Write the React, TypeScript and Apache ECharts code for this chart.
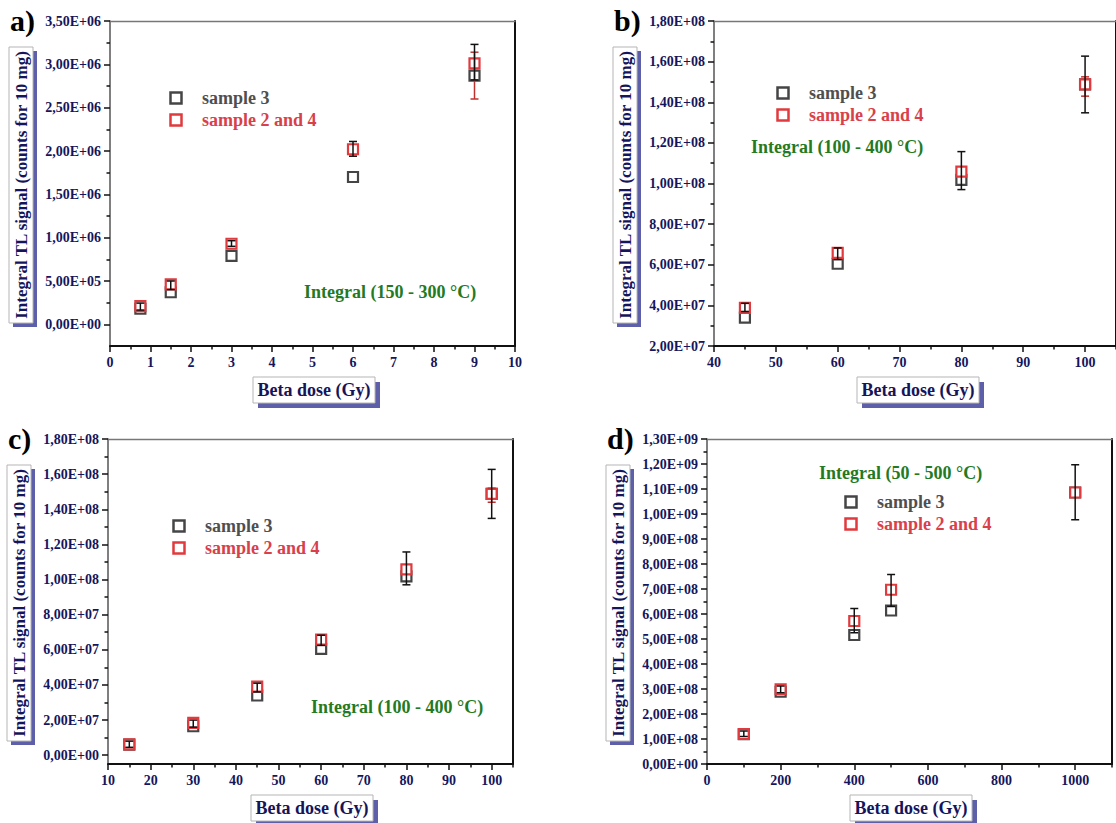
import React, { useEffect, useRef } from 'react';
import * as echarts from 'echarts';

// ---------- Panel a) Integral (150 - 300 °C) ----------
const aDose = [0.75, 1.5, 3, 6, 9];
const aSample3 = [1.8e5, 3.7e5, 7.9e5, 1.7e6, 2.87e6];
const aSample24 = [2.1e5, 4.6e5, 9.3e5, 2.02e6, 3.01e6];
const aErrBlack = [[0.75, 1.65e5, 2.45e5], [1.5, 4.0e5, 5.0e5], [3, 9.0e5, 9.65e5], [6, 1.94e6, 2.11e6], [9, 2.82e6, 3.23e6]];
const aErrRed = [[9, 2.6e6, 3.14e6]];
const aXTicks = [0, 1, 2, 3, 4, 5, 6, 7, 8, 9, 10];
const aXMinor = [0.5, 1.5, 2.5, 3.5, 4.5, 5.5, 6.5, 7.5, 8.5, 9.5];
const aYTicks = [0, 5e5, 1e6, 1.5e6, 2e6, 2.5e6, 3e6, 3.5e6];
const aYMinor = [2.5e5, 7.5e5, 1.25e6, 1.75e6, 2.25e6, 2.75e6, 3.25e6];

// ---------- Panel b) Integral (100 - 400 °C) ----------
const bDose = [45, 60, 80, 100];
const bSample3 = [3.4e7, 6.05e7, 1.018e8, 1.488e8];
const bSample24 = [3.88e7, 6.58e7, 1.058e8, 1.488e8];
const bErrBlack = [[45, 3.7e7, 4.1e7], [60, 6.25e7, 6.83e7], [80, 9.7e7, 1.157e8], [100, 1.348e8, 1.627e8]];
const bErrRed = [[100, 1.43e8, 1.525e8]];
const bXTicks = [40, 50, 60, 70, 80, 90, 100];
const bXMinor = [45, 55, 65, 75, 85, 95, 105];
const bYTicks = [2e7, 4e7, 6e7, 8e7, 1e8, 1.2e8, 1.4e8, 1.6e8, 1.8e8];
const bYMinor = [3e7, 5e7, 7e7, 9e7, 1.1e8, 1.3e8, 1.5e8, 1.7e8];

// ---------- Panel c) Integral (100 - 400 °C) ----------
const cDose = [15, 30, 45, 60, 80, 100];
const cSample3 = [6.0e6, 1.65e7, 3.4e7, 6.05e7, 1.018e8, 1.488e8];
const cSample24 = [6.2e6, 1.84e7, 3.9e7, 6.58e7, 1.058e8, 1.488e8];
const cErrBlack = [[15, 4.5e6, 8.0e6], [30, 1.6e7, 2.0e7], [45, 3.6e7, 4.1e7], [60, 6.25e7, 6.83e7], [80, 9.7e7, 1.157e8], [100, 1.348e8, 1.627e8]];
const cErrRed = [[100, 1.44e8, 1.52e8]];
const cXTicks = [10, 20, 30, 40, 50, 60, 70, 80, 90, 100];
const cXMinor = [15, 25, 35, 45, 55, 65, 75, 85, 95, 105];
const cYTicks = [0, 2e7, 4e7, 6e7, 8e7, 1e8, 1.2e8, 1.4e8, 1.6e8, 1.8e8];
const cYMinor = [1e7, 3e7, 5e7, 7e7, 9e7, 1.1e8, 1.3e8, 1.5e8, 1.7e8];

// ---------- Panel d) Integral (50 - 500 °C) ----------
const dDose = [100, 200, 400, 500, 1000];
const dSample3 = [1.19e8, 2.89e8, 5.16e8, 6.14e8, 1.086e9];
const dSample24 = [1.2e8, 2.99e8, 5.72e8, 6.97e8, 1.086e9];
const dErrBlack = [[100, 1.1e8, 1.32e8], [200, 2.85e8, 3.12e8], [400, 5.25e8, 6.22e8], [500, 6.3e8, 7.58e8], [1000, 9.77e8, 1.197e9]];
const dErrRed: number[][] = [];
const dXTicks = [0, 200, 400, 600, 800, 1000];
const dXMinor = [100, 300, 500, 700, 900, 1100];
const dYTicks = [0, 1e8, 2e8, 3e8, 4e8, 5e8, 6e8, 7e8, 8e8, 9e8, 1e9, 1.1e9, 1.2e9, 1.3e9];
const dYMinor = [5e7, 1.5e8, 2.5e8, 3.5e8, 4.5e8, 5.5e8, 6.5e8, 7.5e8, 8.5e8, 9.5e8, 1.05e9, 1.15e9, 1.25e9];

const legendNames = ['sample 3', 'sample 2 and 4'];
const yTitle = 'Integral TL signal (counts for 10 mg)';
const xTitle = 'Beta dose (Gy)';

const SERIF = '"Liberation Serif", "Times New Roman", serif';
const NAVY = '#15155c';
const BLACKM = '#454545';
const REDM = '#e03a3e';
const GREEN = '#237a23';
const SHADOW = '#5d5fa8';

const fmtSci = (v: number) => {
  if (v === 0) return '0,00E+00';
  let e = Math.floor(Math.log10(Math.abs(v)));
  let s = (v / Math.pow(10, e)).toFixed(2);
  if (s === '10.00') { e += 1; s = '1.00'; }
  return s.replace('.', ',') + 'E' + (e >= 0 ? '+' : '-') + String(Math.abs(e)).padStart(2, '0');
};

type Panel = {
  letter: string; left: number; top: number;
  xMin: number; xMax: number; yMin: number; yMax: number;
  xTicks: number[]; xMinor: number[]; yTicks: number[]; yMinor: number[];
  dose: number[]; s3: number[]; s24: number[]; errB: number[][]; errR: number[][];
  note: string; noteX: number; noteY: number; legX: number; legY: number;
};

const panels: Panel[] = [
  { letter: 'a)', left: 110, top: 21, xMin: 0, xMax: 10, yMin: -2.5e5, yMax: 3.5e6,
    xTicks: aXTicks, xMinor: aXMinor, yTicks: aYTicks, yMinor: aYMinor,
    dose: aDose, s3: aSample3, s24: aSample24, errB: aErrBlack, errR: aErrRed,
    note: 'Integral (150 - 300 °C)', noteX: 304, noteY: 292, legX: 176, legY: 98 },
  { letter: 'b)', left: 714, top: 21, xMin: 40, xMax: 105, yMin: 2e7, yMax: 1.8e8,
    xTicks: bXTicks, xMinor: bXMinor, yTicks: bYTicks, yMinor: bYMinor,
    dose: bDose, s3: bSample3, s24: bSample24, errB: bErrBlack, errR: bErrRed,
    note: 'Integral (100 - 400 °C)', noteX: 751, noteY: 147, legX: 783, legY: 93 },
  { letter: 'c)', left: 108, top: 439, xMin: 10, xMax: 105, yMin: -5e6, yMax: 1.8e8,
    xTicks: cXTicks, xMinor: cXMinor, yTicks: cYTicks, yMinor: cYMinor,
    dose: cDose, s3: cSample3, s24: cSample24, errB: cErrBlack, errR: cErrRed,
    note: 'Integral (100 - 400 °C)', noteX: 311, noteY: 707, legX: 179, legY: 526 },
  { letter: 'd)', left: 707, top: 439, xMin: 0, xMax: 1100, yMin: 0, yMax: 1.3e9,
    xTicks: dXTicks, xMinor: dXMinor, yTicks: dYTicks, yMinor: dYMinor,
    dose: dDose, s3: dSample3, s24: dSample24, errB: dErrBlack, errR: dErrRed,
    note: 'Integral (50 - 500 °C)', noteX: 819, noteY: 473, legX: 851, legY: 502 },
];

const PW = 405;
const PH = 325;

const labelFont = { fontFamily: SERIF, fontWeight: 'bold' as const, fontSize: 14, color: NAVY };

function errorSeries(data: number[][], xi: number, yi: number, color: string, z: number) {
  return {
    type: 'custom', xAxisIndex: xi, yAxisIndex: yi, z, silent: true,
    encode: { x: 0, y: [1, 2] },
    data,
    renderItem: (_p: any, api: any) => {
      const x = api.value(0);
      const a = api.coord([x, api.value(1)]);
      const b = api.coord([x, api.value(2)]);
      const w = 4;
      const style = { stroke: color, lineWidth: 1.5 };
      return {
        type: 'group',
        children: [
          { type: 'line', shape: { x1: a[0], y1: a[1], x2: b[0], y2: b[1] }, style },
          { type: 'line', shape: { x1: a[0] - w, y1: a[1], x2: a[0] + w, y2: a[1] }, style },
          { type: 'line', shape: { x1: b[0] - w, y1: b[1], x2: b[0] + w, y2: b[1] }, style },
        ],
      };
    },
  };
}

function buildOption() {
  const grid: any[] = [];
  const xAxis: any[] = [];
  const yAxis: any[] = [];
  const series: any[] = [];
  const graphic: any[] = [];

  panels.forEach((p, i) => {
    grid.push({ left: p.left, top: p.top, width: PW, height: PH, containLabel: false });
    const xb = i * 3;
    const yb = i * 3;
    // x axes: main, minor, top frame
    xAxis.push({
      type: 'value', gridIndex: i, position: 'bottom', min: p.xMin, max: p.xMax,
      axisLine: { show: true, onZero: false, lineStyle: { color: '#111', width: 2 } },
      axisTick: { show: true, customValues: p.xTicks, length: 6, lineStyle: { color: '#111', width: 1.5 } },
      axisLabel: { show: true, customValues: p.xTicks, formatter: (v: number) => String(v), margin: 9, ...labelFont },
      splitLine: { show: false },
    });
    xAxis.push({
      type: 'value', gridIndex: i, position: 'bottom', min: p.xMin, max: p.xMax,
      axisLine: { show: false, onZero: false },
      axisTick: { show: true, customValues: p.xMinor, length: 3.5, lineStyle: { color: '#111', width: 1.5 } },
      axisLabel: { show: false },
      splitLine: { show: false },
    });
    xAxis.push({
      type: 'value', gridIndex: i, position: 'top', min: p.xMin, max: p.xMax,
      axisLine: { show: true, onZero: false, lineStyle: { color: '#777', width: 1.3 } },
      axisTick: { show: false }, axisLabel: { show: false }, splitLine: { show: false },
    });
    // y axes: main, minor, right frame
    yAxis.push({
      type: 'value', gridIndex: i, position: 'left', min: p.yMin, max: p.yMax,
      axisLine: { show: true, onZero: false, lineStyle: { color: '#555', width: 1.5 } },
      axisTick: { show: true, customValues: p.yTicks, length: 6, lineStyle: { color: '#111', width: 1.5 } },
      axisLabel: { show: true, customValues: p.yTicks, formatter: (v: number) => fmtSci(v), margin: 9, ...labelFont },
      splitLine: { show: false },
    });
    yAxis.push({
      type: 'value', gridIndex: i, position: 'left', min: p.yMin, max: p.yMax,
      axisLine: { show: false, onZero: false },
      axisTick: { show: true, customValues: p.yMinor, length: 3.5, lineStyle: { color: '#111', width: 1.5 } },
      axisLabel: { show: false },
      splitLine: { show: false },
    });
    yAxis.push({
      type: 'value', gridIndex: i, position: 'right', min: p.yMin, max: p.yMax,
      axisLine: { show: true, onZero: false, lineStyle: { color: '#111', width: 2 } },
      axisTick: { show: false }, axisLabel: { show: false }, splitLine: { show: false },
    });

    series.push({
      type: 'scatter', name: legendNames[0], xAxisIndex: xb, yAxisIndex: yb, z: 2,
      symbol: 'rect', symbolSize: 10,
      itemStyle: { color: '#fff', borderColor: BLACKM, borderWidth: 2.2, opacity: 1 },
      data: p.dose.map((d, k) => [d, p.s3[k]]),
    });
    series.push({
      type: 'scatter', name: legendNames[1], xAxisIndex: xb, yAxisIndex: yb, z: 3,
      symbol: 'rect', symbolSize: 10,
      itemStyle: { color: '#fff', borderColor: REDM, borderWidth: 2.2, opacity: 1 },
      data: p.dose.map((d, k) => [d, p.s24[k]]),
    });
    series.push(errorSeries(p.errR, xb, yb, '#c0302f', 4));
    series.push(errorSeries(p.errB, xb, yb, '#111', 5));

    // panel letter
    graphic.push({
      type: 'text', x: p.left - 100, y: p.top - 1, z: 10,
      style: { text: p.letter, font: `bold 30px ${SERIF}`, fill: '#000', align: 'left', verticalAlign: 'middle' },
    });
    // y title box
    const bx = p.left - 101;
    const by = p.top + 26;
    graphic.push({ type: 'rect', z: 10, shape: { x: bx + 4, y: by + 4, width: 24, height: 276 }, style: { fill: SHADOW } });
    graphic.push({ type: 'rect', z: 11, shape: { x: bx, y: by, width: 24, height: 276 }, style: { fill: '#fff', stroke: '#b5b5b5', lineWidth: 1 } });
    graphic.push({
      type: 'text', z: 12, x: bx + 12.5, y: by + 138, rotation: Math.PI / 2,
      style: { text: yTitle, font: `bold 17px ${SERIF}`, fill: NAVY, align: 'center', verticalAlign: 'middle' },
    });
    // x title box
    const tx = p.left + 143;
    const ty = p.top + 356;
    graphic.push({ type: 'rect', z: 10, shape: { x: tx + 5, y: ty + 5, width: 122, height: 26 }, style: { fill: SHADOW } });
    graphic.push({ type: 'rect', z: 11, shape: { x: tx, y: ty, width: 122, height: 26 }, style: { fill: '#fff', stroke: '#b5b5b5', lineWidth: 1 } });
    graphic.push({
      type: 'text', z: 12, x: tx + 61, y: ty + 13,
      style: { text: xTitle, font: `bold 18px ${SERIF}`, fill: NAVY, align: 'center', verticalAlign: 'middle' },
    });
    // legend
    const legColors = [BLACKM, REDM];
    const legText = ['#4f4f4f', '#d8404a'];
    legendNames.forEach((n, k) => {
      const cy = p.legY + k * 22;
      graphic.push({ type: 'rect', z: 12, shape: { x: p.legX - 5.5, y: cy - 5.5, width: 11, height: 11 }, style: { fill: '#fff', stroke: legColors[k], lineWidth: 2.5 } });
      graphic.push({
        type: 'text', z: 12, x: p.legX + 26, y: cy,
        style: { text: n, font: `bold 18px ${SERIF}`, fill: legText[k], align: 'left', verticalAlign: 'middle' },
      });
    });
    // annotation
    graphic.push({
      type: 'text', z: 12, x: p.noteX, y: p.noteY,
      style: { text: p.note, font: `bold 18px ${SERIF}`, fill: GREEN, align: 'left', verticalAlign: 'middle' },
    });
  });

  return { animation: false, backgroundColor: '#fff', grid, xAxis, yAxis, series, graphic };
}

export default function App() {
  const ref = useRef<HTMLDivElement>(null);
  useEffect(() => {
    if (!ref.current) return;
    const chart = echarts.init(ref.current, undefined, { renderer: 'svg' });
    chart.setOption(buildOption() as any);
    return () => chart.dispose();
  }, []);
  return (
    <div
      ref={ref}
      style={{ position: 'fixed', left: 0, top: 0, width: 1116, height: 823, background: '#fff' }}
    />
  );
}
